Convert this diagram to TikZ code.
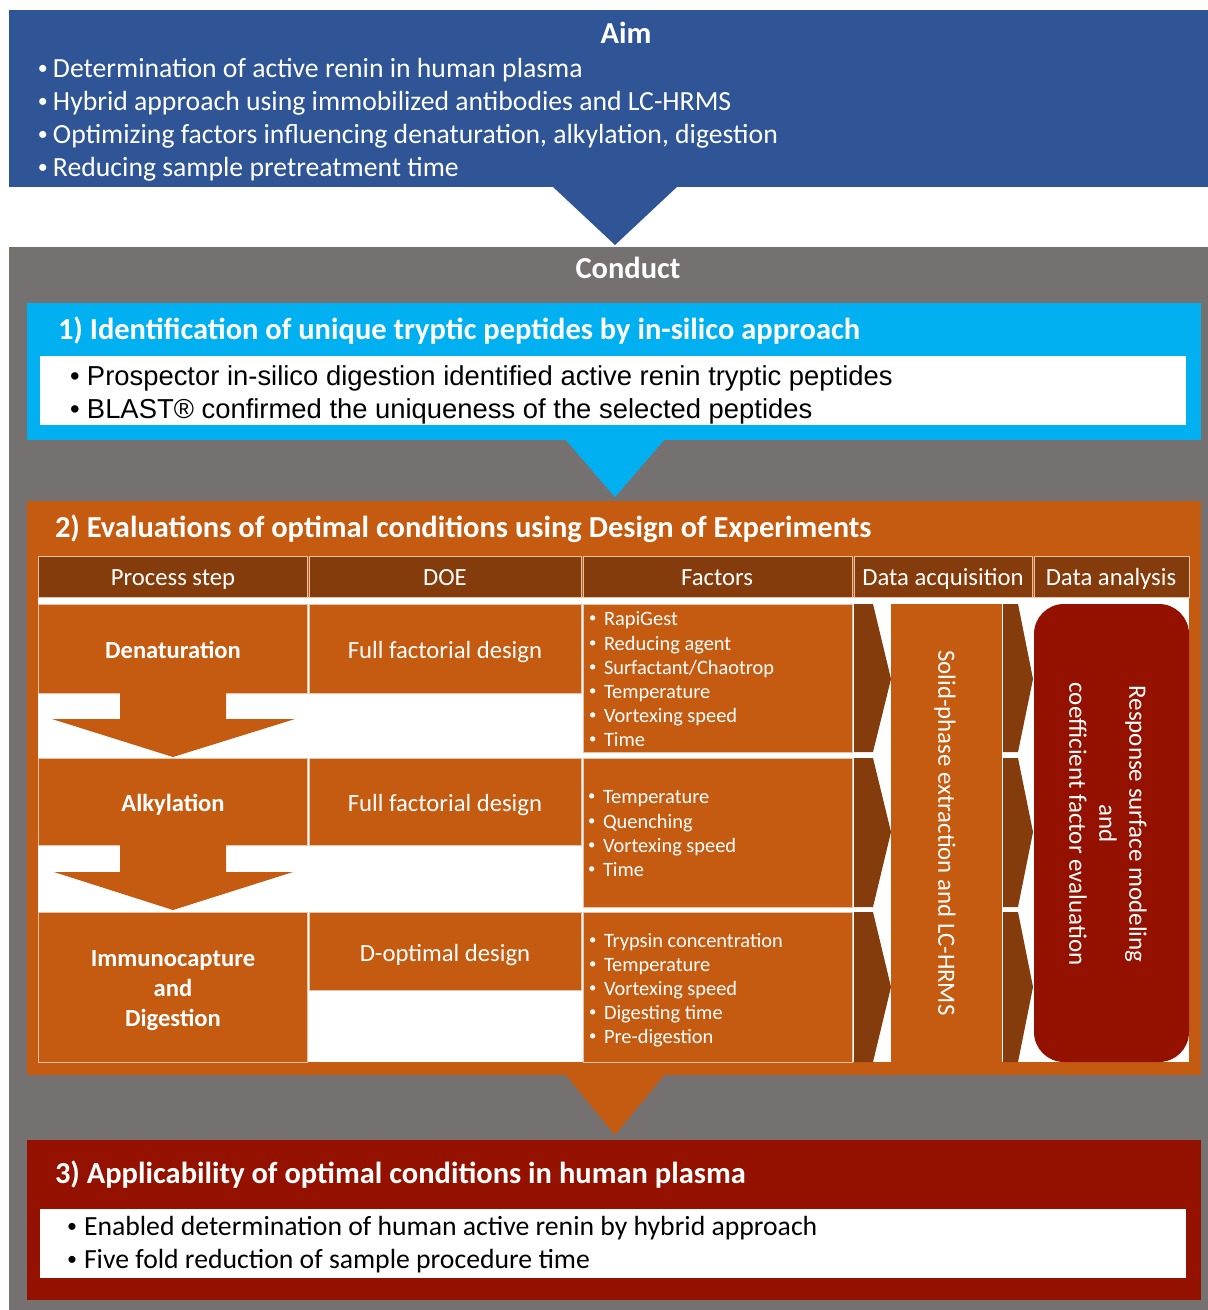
\documentclass[tikz,border=0pt]{standalone}
\usepackage{fontspec}
\setmainfont{Carlito}
\newfontfamily\arialfont{Liberation Sans}

\definecolor{aimblue}{HTML}{2F5597}
\definecolor{skyblue}{HTML}{00B0F0}
\definecolor{rust}{HTML}{C55A11}
\definecolor{darkrust}{HTML}{843C0C}
\definecolor{deepred}{HTML}{941100}
\definecolor{slate}{HTML}{767171}
\definecolor{cellline}{HTML}{E8C2A4}

% bullet item: a slightly reduced bullet in a fixed-width box, then the text
\newcommand\bitem[2]{\makebox[#1][l]{\hspace{1pt}\raisebox{0.1em}{\scalebox{0.72}{•}}}#2}
\newcommand\aitem[2]{\makebox[#1][l]{•}#2}

\tikzset{
  panel/.style={draw=none, inner sep=0pt, outer sep=0pt, anchor=north west},
  cell/.style={panel, fill=rust, draw=cellline, line width=0.8pt},
  headcell/.style={panel, fill=darkrust, draw=cellline, line width=0.8pt},
  txt/.style={inner sep=0pt, outer sep=0pt},
  headtext/.style={txt, anchor=base, text=white, font=\fontsize{24.7}{28}\selectfont},
  title/.style={txt, anchor=base west, text=white, font=\fontsize{30.5}{34}\selectfont\bfseries},
  wbul/.style={txt, anchor=base west, text=white, font=\fontsize{27.7}{32}\selectfont},
  kbul/.style={txt, anchor=base west, text=black, font=\fontsize{27.7}{32}\selectfont},
  abul/.style={txt, anchor=base west, text=black, font=\arialfont\fontsize{27.4}{32}\selectfont},
  factor/.style={txt, anchor=base west, text=white, font=\fontsize{20.4}{24}\selectfont},
  stepname/.style={txt, anchor=base, text=white, font=\fontsize{24.6}{30}\selectfont\bfseries},
  doename/.style={txt, anchor=base, text=white, font=\fontsize{24.7}{28}\selectfont},
  chevron/.style={fill=darkrust},
}

\begin{document}
\begin{tikzpicture}[x=1pt, y=-1pt]
\fill[white] (0,0) rectangle (1208,1310);
\useasboundingbox (0,0) rectangle (1208,1310);

% ---------- Aim ----------
\node[panel, fill=aimblue, minimum width=1199pt, minimum height=177pt] (aim) at (9,10) {};
\fill[aimblue] (552,186) -- (678,186) -- (615,245) -- cycle;
\node[txt, anchor=base, text=white, font=\fontsize{30.5}{34}\selectfont\bfseries] (aimtitle) at (626,43) {Aim};
\node[wbul] (aim1) at (37,77)  {\bitem{16pt}{Determination of active renin in human plasma}};
\node[wbul] (aim2) at (37,110) {\bitem{16pt}{Hybrid approach using immobilized antibodies and LC-HRMS}};
\node[wbul] (aim3) at (37,143) {\bitem{16pt}{Optimizing factors influencing denaturation, alkylation, digestion}};
\node[wbul] (aim4) at (37,176) {\bitem{16pt}{Reducing sample pretreatment time}};

% ---------- Conduct ----------
\node[panel, fill=slate, minimum width=1199pt, minimum height=1063pt] (conduct) at (9,247) {};
\node[txt, anchor=base, text=white, font=\fontsize{30.5}{34}\selectfont\bfseries] (conducttitle) at (628,278) {Conduct};

% ---------- 1) in-silico ----------
\node[panel, fill=skyblue, minimum width=1174pt, minimum height=137pt] (stepone) at (27,303) {};
\node[title] (onetitle) at (58,339) {1) Identification of unique tryptic peptides by in-silico approach};
\node[panel, fill=white, minimum width=1146pt, minimum height=69pt] (onebody) at (40,356) {};
\node[abul] (one1) at (70,385) {\aitem{17pt}{Prospector in-silico digestion identified active renin tryptic peptides}};
\node[abul] (one2) at (70,418) {\aitem{17pt}{BLAST® confirmed the uniqueness of the selected peptides}};
\fill[skyblue] (565,439) -- (665,439) -- (615,497) -- cycle;

% ---------- 2) Design of Experiments ----------
\node[panel, fill=rust, minimum width=1174pt, minimum height=574pt] (steptwo) at (27,501) {};
\node[title] (twotitle) at (55,537) {2) Evaluations of optimal conditions using Design of Experiments};
\node[panel, fill=white, minimum width=1151pt, minimum height=465pt] (tablebg) at (38,597) {};

% header row
\node[headcell, minimum width=269pt, minimum height=41pt] (hstep) at (38,556) {};
\node[headcell, minimum width=272pt, minimum height=41pt] (hdoe) at (309,556) {};
\node[headcell, minimum width=269pt, minimum height=41pt] (hfac) at (583,556) {};
\node[headcell, minimum width=178pt, minimum height=41pt] (hacq) at (854,556) {};
\node[headcell, minimum width=155pt, minimum height=41pt] (hana) at (1034,556) {};
\node[headtext] (hsteptext) at (173,585) {Process step};
\node[headtext] (hdoetext) at (445,585) {DOE};
\node[headtext] (hfactext) at (717,585) {Factors};
\node[headtext] (hacqtext) at (943,585) {Data acquisition};
\node[headtext] (hanatext) at (1111,585) {Data analysis};

% process steps with downward arrows
\node[cell, minimum width=269pt, minimum height=89pt] (den) at (38,604) {};
\node[stepname] (dentext) at (173,658) {Denaturation};
\fill[rust] (120,692) -- (226,692) -- (226,719) -- (295,719) -- (173,757)
  -- (52,719) -- (120,719) -- cycle;
\node[cell, minimum width=269pt, minimum height=87pt] (alk) at (38,758) {};
\node[stepname] (alktext) at (173,811) {Alkylation};
\fill[rust] (120,844) -- (226,844) -- (226,872) -- (293,872) -- (173,910)
  -- (54,872) -- (120,872) -- cycle;
\node[cell, minimum width=269pt, minimum height=150pt] (imm) at (38,912) {};
\node[stepname] (immtexta) at (173,966) {Immunocapture};
\node[stepname] (immtextb) at (173,996) {and};
\node[stepname] (immtextc) at (173,1026) {Digestion};

% DOE column
\node[cell, minimum width=272pt, minimum height=89pt] (doeone) at (309,604) {};
\node[doename] (doeonetext) at (445,658) {Full factorial design};
\node[cell, minimum width=272pt, minimum height=87pt] (doetwo) at (309,758) {};
\node[doename] (doetwotext) at (445,811) {Full factorial design};
\node[cell, minimum width=272pt, minimum height=78pt] (doethree) at (309,912) {};
\node[doename] (doethreetext) at (445,961) {D-optimal design};

% factors column
\node[cell, minimum width=269pt, minimum height=148pt] (facone) at (583,604) {};
\node[cell, minimum width=269pt, minimum height=149pt] (factwo) at (583,758) {};
\node[cell, minimum width=269pt, minimum height=150pt] (facthree) at (583,912) {};
\node[factor] (f11) at (588,625) {\bitem{16pt}{RapiGest}};
\node[factor] (f12) at (588,650) {\bitem{16pt}{Reducing agent}};
\node[factor] (f13) at (588,674) {\bitem{16pt}{Surfactant/Chaotrop}};
\node[factor] (f14) at (588,698) {\bitem{16pt}{Temperature}};
\node[factor] (f15) at (588,722) {\bitem{16pt}{Vortexing speed}};
\node[factor] (f16) at (588,746) {\bitem{16pt}{Time}};
\node[factor] (f21) at (587,803) {\bitem{16pt}{Temperature}};
\node[factor] (f22) at (587,828) {\bitem{16pt}{Quenching}};
\node[factor] (f23) at (587,852) {\bitem{16pt}{Vortexing speed}};
\node[factor] (f24) at (587,876) {\bitem{16pt}{Time}};
\node[factor] (f31) at (588,947) {\bitem{16pt}{Trypsin concentration}};
\node[factor] (f32) at (588,971) {\bitem{16pt}{Temperature}};
\node[factor] (f33) at (588,995) {\bitem{16pt}{Vortexing speed}};
\node[factor] (f34) at (588,1019) {\bitem{16pt}{Digesting time}};
\node[factor] (f35) at (588,1043) {\bitem{16pt}{Pre-digestion}};

% chevrons into data acquisition
\fill[chevron] (854,604) -- (873,604) -- (891,679) -- (873,752) -- (854,752) -- cycle;
\fill[chevron] (854,758) -- (873,758) -- (891,832) -- (873,907) -- (854,907) -- cycle;
\fill[chevron] (854,912) -- (873,912) -- (891,987) -- (873,1062) -- (854,1062) -- cycle;

% data acquisition
\node[panel, fill=rust, minimum width=111pt, minimum height=458pt] (spe) at (891,604) {};
\node[txt, rotate=-90, text=white, font=\fontsize{24.8}{28}\selectfont] (spetext) at (945,833)
  {Solid-phase extraction and LC-HRMS};

% chevrons into data analysis
\fill[chevron] (1003,604) -- (1018,604) -- (1033,679) -- (1018,752) -- (1003,752) -- cycle;
\fill[chevron] (1003,758) -- (1018,758) -- (1033,832) -- (1018,907) -- (1003,907) -- cycle;
\fill[chevron] (1003,912) -- (1018,912) -- (1033,987) -- (1018,1062) -- (1003,1062) -- cycle;

% data analysis
\node[panel, fill=deepred, rounded corners=30pt, minimum width=155pt, minimum height=458pt] (ana) at (1034,604) {};
\node[txt, rotate=-90, text=white, align=center, font=\fontsize{25}{30}\selectfont] (anatext) at (1108,824)
  {Response surface modeling\\and\\coefficient factor evaluation};

\fill[rust] (565,1074) -- (665,1074) -- (615,1135) -- cycle;

% ---------- 3) plasma ----------
\node[panel, fill=deepred, minimum width=1174pt, minimum height=160pt] (stepthree) at (27,1140) {};
\node[title] (threetitle) at (55,1183) {3) Applicability of optimal conditions in human plasma};
\node[panel, fill=white, minimum width=1146pt, minimum height=69pt] (threebody) at (40,1209) {};
\node[kbul] (three1) at (66,1235) {\bitem{18pt}{Enabled determination of human active renin by hybrid approach}};
\node[kbul] (three2) at (66,1268) {\bitem{18pt}{Five fold reduction of sample procedure time}};
\end{tikzpicture}
\end{document}
